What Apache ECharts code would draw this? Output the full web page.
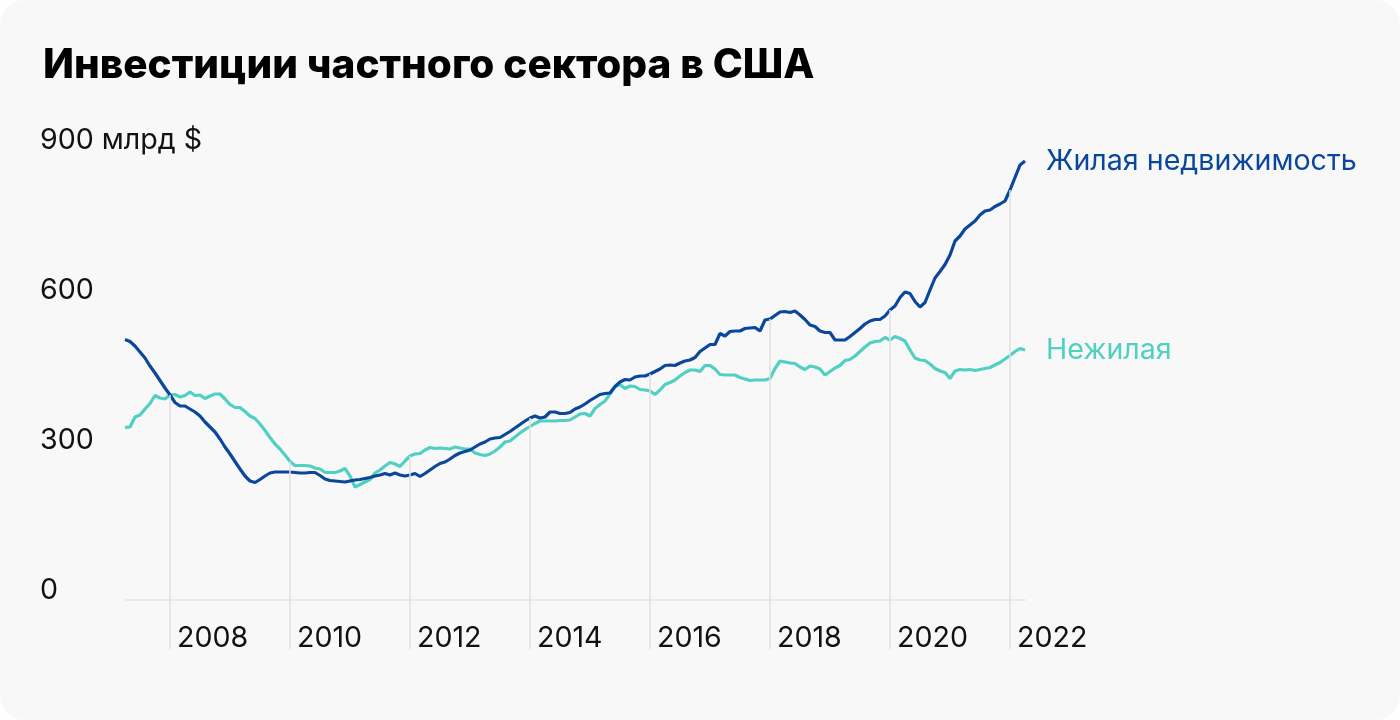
<!DOCTYPE html>
<html>
<head>
<meta charset="utf-8">
<script src="https://cdn.jsdelivr.net/npm/echarts@6/dist/echarts.min.js"></script>
<style>
  html, body { margin: 0; padding: 0; background: #ffffff; }
  #card { position: absolute; left: 0; top: 0; width: 1400px; height: 720px; background: #f8f8f8; border-radius: 24px; overflow: hidden; }
  #chart { width: 1400px; height: 720px; }
</style>
</head>
<body>
<div id="card"><div id="chart"></div></div>
<script>
// Monthly data, April 2007 – April 2022 (billions of USD)
const startYear = 2007, startMonth = 4;
const residential = [
  521,517,508,496,484,468,454,439,424,410,395,388,
  388,382,376,368,356,346,336,322,306,292,277,262,
  248,238,235,241,248,254,256,256,256,256,255,254,
  254,255,255,249,242,239,238,237,236,238,240,241,
  243,245,248,250,253,250,254,250,248,250,253,247,
  253,260,267,273,276,282,289,294,297,300,306,312,
  316,322,324,325,331,337,344,351,358,364,368,364,
  366,376,376,373,373,375,382,386,392,399,405,411,
  413,414,427,436,441,440,446,448,448,452,457,462,
  469,470,469,474,478,480,485,497,504,511,511,533,
  528,537,538,538,543,544,545,538,560,562,569,576,
  577,575,578,570,561,550,547,538,535,535,520,520,
  520,527,535,543,552,558,561,561,568,580,588,605,
  616,613,597,586,595,620,644,657,671,690,718,728,
  742,750,758,770,778,780,787,792,798,820,845,870,
  878
];
const nonResidential = [
  345,346,366,370,382,393,409,404,402,410,411,406,
  409,416,409,410,403,408,412,412,402,391,385,385,
  377,368,363,352,339,325,312,302,290,277,269,269,
  269,268,264,262,255,255,255,258,263,248,226,231,
  236,241,254,260,268,275,272,267,278,288,292,293,
  300,305,303,304,303,302,306,304,302,302,294,291,
  289,292,298,306,316,318,326,334,341,347,353,358,
  358,358,358,359,359,360,366,372,373,368,383,391,
  398,412,427,431,423,428,427,421,420,418,411,420,
  431,435,440,448,455,460,460,457,469,469,462,451,
  450,450,450,445,442,439,440,440,440,443,463,478,
  476,474,473,466,461,468,466,462,450,457,464,469,
  479,481,488,497,506,514,517,518,525,520,527,523,
  518,500,484,480,479,472,463,458,455,443,458,461,
  460,461,459,461,463,465,470,475,482,489,497,503,
  500
];
const seriesNames = ['Жилая недвижимость', 'Нежилая'];
const tickYears = [2008, 2010, 2012, 2014, 2016, 2018, 2020, 2022];
const yTickValues = [0, 300, 600, 900];
const yUnitLabel = '900 млрд $';

const colors = ['#0a479c', '#50cfc3'];

const months = [];
for (let i = 0; i < residential.length; i++) {
  const m0 = startMonth - 1 + i;
  const y = startYear + Math.floor(m0 / 12);
  const m = (m0 % 12) + 1;
  months.push(y + '-' + (m < 10 ? '0' + m : m));
}
const tickCats = tickYears.map(y => y + '-01');
const tickIdx = tickCats.map(c => months.indexOf(c));

const yMin = -100, yMax = 900;
const dropBottom = -98;
const dropLines = tickIdx.map(i => [
  { coord: [months[i], Math.max(residential[i], nonResidential[i])] },
  { coord: [months[i], dropBottom] }
]);

const FONT = 'Inter, Roboto, sans-serif';
const LABEL_SIZE = 28.6;
const chart = echarts.init(document.getElementById('chart'), null, { renderer: 'canvas' });
chart.setOption({
  backgroundColor: 'transparent',
  animation: false,
  title: {
    text: 'Инвестиции частного сектора в США',
    left: 38, top: 40,
    textStyle: { fontFamily: FONT, fontSize: 40.5, fontWeight: 800, color: '#000000' }
  },
  grid: { left: 125, right: 375, top: 150, bottom: 70, containLabel: false },
  xAxis: {
    type: 'category',
    data: months,
    boundaryGap: false,
    axisLine: { show: true, onZero: true, lineStyle: { color: '#e3e3e3', width: 1.5 } },
    axisTick: { show: false },
    splitLine: { show: false },
    axisLabel: {
      interval: (idx) => tickIdx.indexOf(idx) >= 0,
      formatter: (v) => v.slice(0, 4),
      align: 'left',
      padding: [0, 0, 0, 7],
      margin: -26,
      fontFamily: FONT, fontSize: LABEL_SIZE, color: '#111111'
    }
  },
  yAxis: {
    type: 'value',
    min: yMin, max: yMax,
    axisLine: { show: false },
    axisTick: { show: false },
    splitLine: { show: false },
    axisLabel: {
      customValues: yTickValues,
      formatter: (v) => v === 900 ? yUnitLabel : String(v),
      align: 'left',
      verticalAlign: 'bottom',
      lineHeight: 20,
      margin: 85,
      fontFamily: FONT, fontSize: LABEL_SIZE, color: '#111111'
    }
  },
  series: [
    {
      name: 'drops', type: 'line', data: [], z: 1, silent: true,
      markLine: {
        silent: true, symbol: ['none', 'none'], label: { show: false },
        lineStyle: { color: '#e0e0e0', width: 1.5, type: 'solid' },
        emphasis: { disabled: true },
        data: dropLines
      }
    },
    {
      name: seriesNames[0], type: 'line', data: residential, z: 4,
      symbol: 'none', smooth: false,
      lineStyle: { color: colors[0], width: 3.2 },
      itemStyle: { color: colors[0] },
      endLabel: { show: true, formatter: '{a}', color: colors[0], fontFamily: FONT, fontSize: LABEL_SIZE, distance: 21 }
    },
    {
      name: seriesNames[1], type: 'line', data: nonResidential, z: 3,
      symbol: 'none', smooth: false,
      lineStyle: { color: colors[1], width: 3.2 },
      itemStyle: { color: colors[1] },
      endLabel: { show: true, formatter: '{a}', color: colors[1], fontFamily: FONT, fontSize: LABEL_SIZE, distance: 21 }
    }
  ]
});
</script>
</body>
</html>
